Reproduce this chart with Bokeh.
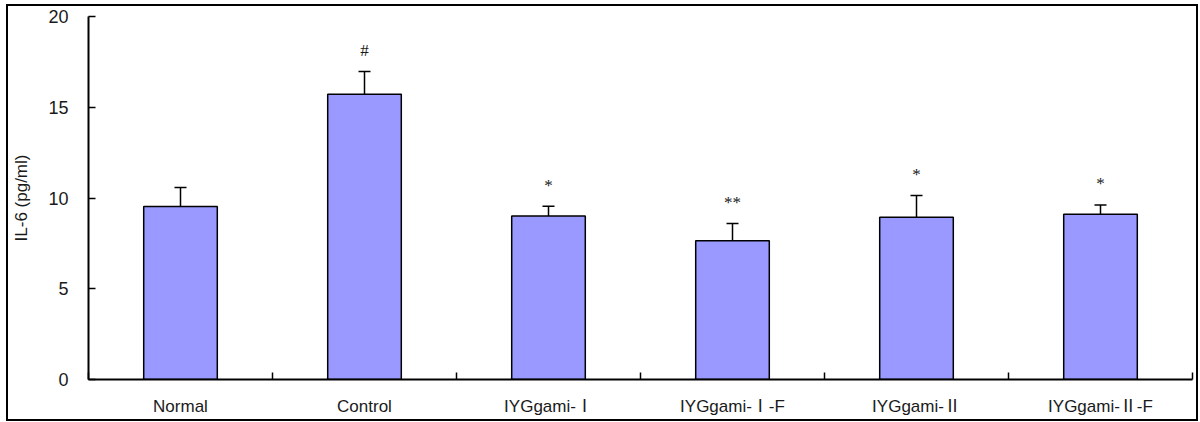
from bokeh.plotting import figure
from bokeh.models import ColumnDataSource, Range1d, FixedTicker, Whisker, TeeHead, LabelSet
from bokeh.embed import file_html
from bokeh.resources import INLINE

# ---- data ----
groups = ["Normal", "Control", "IYGgami-Ⅰ", "IYGgami-Ⅰ-F", "IYGgami-Ⅱ", "IYGgami-Ⅱ-F"]
il6_mean = [9.53, 15.72, 9.01, 7.65, 8.94, 9.10]
il6_err = [1.05, 1.25, 0.54, 0.95, 1.20, 0.52]
signif = ["", "#", "*", "**", "*", "*"]
y_ticks = [0, 5, 10, 15, 20]

xpos = [i + 0.5 for i in range(len(groups))]
upper = [m + e for m, e in zip(il6_mean, il6_err)]

src = ColumnDataSource(dict(x=xpos, top=il6_mean, upper=upper, sig=signif, name=groups))

FONT = "Liberation Sans, Noto Sans CJK KR"

p = figure(width=1188, height=413, output_backend="svg", toolbar_location=None,
           x_range=Range1d(0, len(groups)), y_range=Range1d(0, 20),
           min_border_left=80, min_border_right=8, min_border_top=10, min_border_bottom=44)
p.styles = {"border": "2px solid black", "margin": "4px 0px 0px 6px",
            "box-sizing": "content-box"}
p.outline_line_color = None
p.xgrid.grid_line_color = None
p.ygrid.grid_line_color = None
p.background_fill_color = "white"
p.border_fill_color = "white"

p.vbar(x="x", top="top", bottom=0, width=0.4, source=src,
       fill_color="#9999FF", line_color="black", line_width=1.5)

w = Whisker(base="x", lower="top", upper="upper", source=src, dimension="height",
            line_color="black", line_width=1.5,
            upper_head=TeeHead(size=12, line_color="black", line_width=1.5),
            lower_head=None)
p.add_layout(w)

labels = LabelSet(x="x", y="upper", text="sig", source=src, y_offset=21,
                  text_align="center", text_baseline="middle",
                  text_font=FONT, text_font_size="17px", text_color="#1a1a1a")
p.add_layout(labels)

# x axis: labels at centres, ticks at boundaries
p.xaxis.ticker = FixedTicker(ticks=xpos, minor_ticks=list(range(len(groups) + 1)))
p.xaxis.major_label_overrides = {x: g for x, g in zip(xpos, groups)}
p.xaxis.major_tick_in = 0
p.xaxis.major_tick_out = 0
p.xaxis.minor_tick_in = 7
p.xaxis.minor_tick_out = 0
p.xaxis.minor_tick_line_color = "black"
p.xaxis.minor_tick_line_width = 1.5
p.xaxis.major_label_standoff = 17
p.xaxis.major_label_text_font = FONT
p.xaxis.major_label_text_font_size = "17px"
p.xaxis.major_label_text_color = "#1a1a1a"
p.xaxis.axis_line_width = 2
p.xaxis.axis_line_color = "black"

# y axis
p.yaxis.ticker = FixedTicker(ticks=y_ticks)
p.yaxis.major_tick_in = 7
p.yaxis.major_tick_out = 0
p.yaxis.major_tick_line_width = 1.5
p.yaxis.minor_tick_line_color = None
p.yaxis.major_label_standoff = 20
p.yaxis.major_label_text_font = FONT
p.yaxis.major_label_text_font_size = "18px"
p.yaxis.major_label_text_color = "#1a1a1a"
p.yaxis.axis_line_width = 2
p.yaxis.axis_line_color = "black"
p.yaxis.axis_label = "IL-6 (pg/ml)"
p.yaxis.axis_label_text_font = FONT
p.yaxis.axis_label_text_font_size = "17px"
p.yaxis.axis_label_text_font_style = "normal"
p.yaxis.axis_label_text_color = "#1a1a1a"
p.yaxis.axis_label_standoff = 14

open("out.html", "w").write(file_html(p, INLINE))
